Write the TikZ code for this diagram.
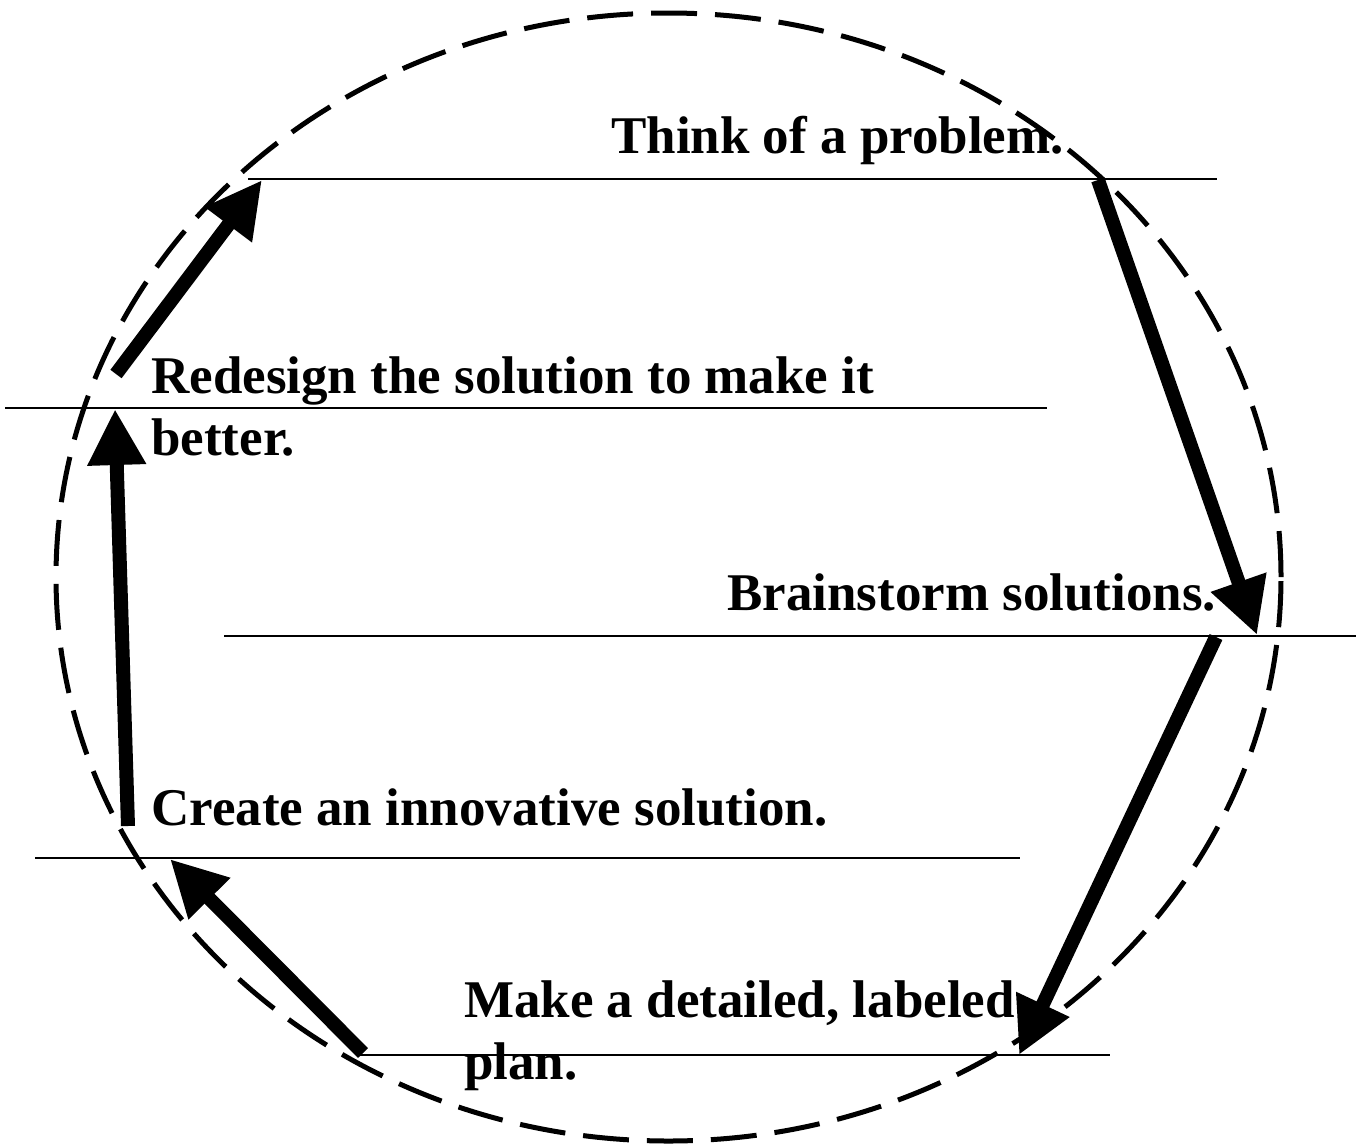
\documentclass[tikz,border=0pt]{standalone}
\usepackage{fontspec}
\setmainfont{Liberation Serif}
\usetikzlibrary{arrows.meta}
\begin{document}
\begin{tikzpicture}[x=1pt,y=-1pt,
  thinline/.style={line width=2pt},
  bigarrow/.style={line width=14pt,-{Triangle[length=56pt,width=55pt]}},
  lbl/.style={inner sep=0pt,anchor=base west,align=left,font=\fontsize{53}{62}\selectfont\bfseries},
  loop/.style={line width=5pt,dash pattern=on 46pt off 18pt}]
\useasboundingbox (0,0) rectangle (1359,1146);
\fill[white] (0,0) rectangle (1359,1146);
% dashed cycle
\draw[loop] (668.5,577) ellipse [x radius=612.5pt, y radius=564pt];
% lines
\coordinate (l1a) at (248,179);  \coordinate (l1b) at (1217,179);
\coordinate (l2a) at (5,408);    \coordinate (l2b) at (1047,408);
\coordinate (l3a) at (224,636);  \coordinate (l3b) at (1356,636);
\coordinate (l4a) at (35,858);   \coordinate (l4b) at (1020,858);
\coordinate (l5a) at (358,1055); \coordinate (l5b) at (1110,1055);
\draw[thinline] (l1a) -- (l1b);
\draw[thinline] (l2a) -- (l2b);
\draw[thinline] (l3a) -- (l3b);
\draw[thinline] (l4a) -- (l4b);
\draw[thinline] (l5a) -- (l5b);
% labels (multi-line nodes are placed at the baseline of their last line)
\node[lbl] (think) at (611,153) {Think of a problem.};
\node[lbl] (brain) at (727,610) {Brainstorm solutions.};
\node[lbl] (make) at (464,1079) {Make a detailed, labeled\\plan.};
\node[lbl] (create) at (151,825) {Create an innovative solution.};
\node[lbl] (redesign) at (151,455) {Redesign the solution to make it\\better.};
% arrows
\coordinate (a1s) at (1098,180); \coordinate (a1e) at (1257,635);
\coordinate (a2s) at (1216,637); \coordinate (a2e) at (1019,1055);
\coordinate (a3s) at (363,1053); \coordinate (a3e) at (170,859);
\coordinate (a4s) at (128,826);  \coordinate (a4e) at (115,409);
\coordinate (a5s) at (116,374);  \coordinate (a5e) at (262,180);
\draw[bigarrow] (a1s) -- (a1e);
\draw[bigarrow] (a2s) -- (a2e);
\draw[bigarrow] (a3s) -- (a3e);
\draw[bigarrow] (a4s) -- (a4e);
\draw[bigarrow] (a5s) -- (a5e);
\end{tikzpicture}
\end{document}
